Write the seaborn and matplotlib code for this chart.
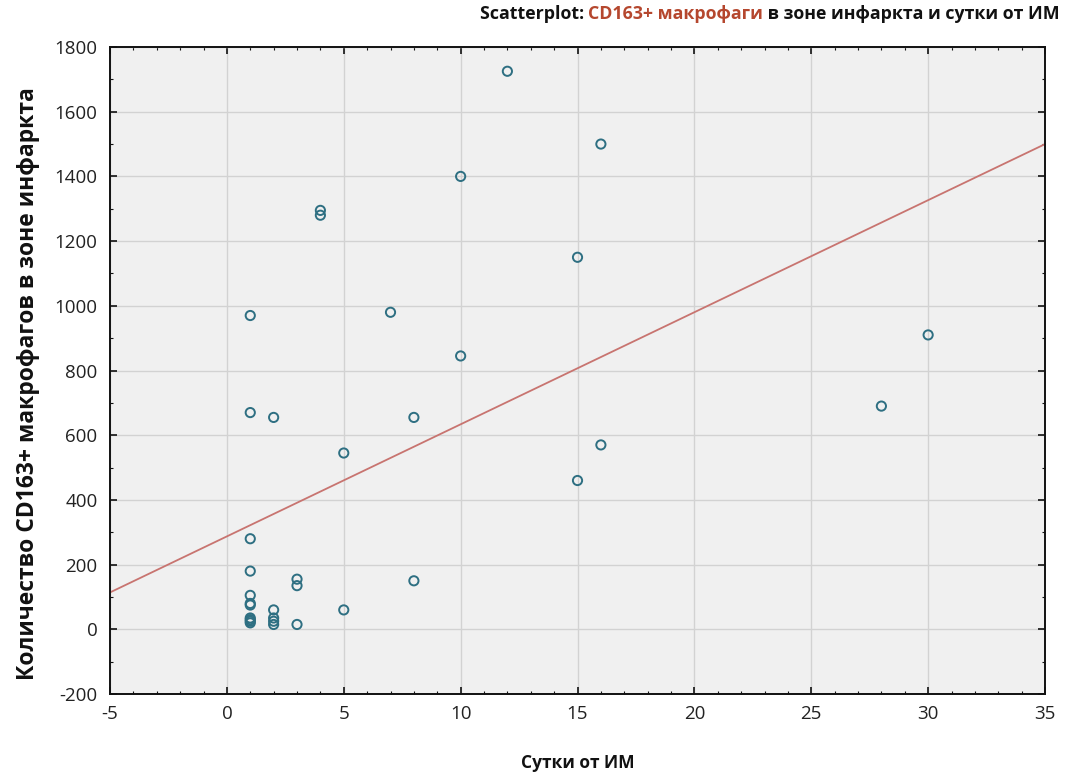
import numpy as np
import pandas as pd
import matplotlib
matplotlib.use("Agg")
import matplotlib.pyplot as plt
from matplotlib.ticker import MultipleLocator
import seaborn as sns

# Days after myocardial infarction and CD163+ macrophage counts in the infarct zone
days = [1, 1, 1, 1, 1, 1, 1, 1, 1, 1, 1,
        2, 2, 2, 2, 2,
        3, 3, 3,
        4, 4,
        5, 5,
        7,
        8, 8,
        10, 10,
        12,
        15, 15,
        16, 16,
        28,
        30]
macrophages = [970, 670, 280, 180, 105, 80, 75, 35, 30, 25, 20,
               655, 60, 35, 25, 15,
               155, 135, 15,
               1295, 1280,
               545, 60,
               980,
               655, 150,
               1400, 845,
               1725,
               1150, 460,
               1500, 570,
               690,
               910]

x_ticks = [-5, 0, 5, 10, 15, 20, 25, 30, 35]
y_ticks = [-200, 0, 200, 400, 600, 800, 1000, 1200, 1400, 1600, 1800]

title_parts = [("Scatterplot: ", "#111111"),
               ("CD163+ макрофаги", "#b5472e"),
               (" в зоне инфаркта и сутки от ИМ", "#111111")]
x_label = "Сутки от ИМ"
y_label = "Количество CD163+ макрофагов в зоне инфаркта"

df = pd.DataFrame({"days": days, "cd163": macrophages})

sns.set_style("whitegrid", {
    "axes.facecolor": "#f0f0f0",
    "axes.edgecolor": "#111111",
    "grid.color": "#d2d2d2",
})
plt.rcParams["font.family"] = ["Open Sans", "DejaVu Sans"]
plt.rcParams["axes.unicode_minus"] = False

fig = plt.figure(figsize=(10.67, 7.82), dpi=100)
ax = fig.add_axes([0.1031, 0.1125, 0.8763, 0.8274])
ax.set_xlim(-5, 35)
ax.set_ylim(-200, 1800)

point_color = "#2e6f82"
sns.regplot(data=df, x="days", y="cd163", ax=ax, ci=None, truncate=False,
            color=point_color,
            scatter_kws=dict(facecolors="none", edgecolors=point_color,
                             s=44, linewidths=1.4, alpha=1, zorder=3),
            line_kws=dict(color="#c87470", lw=1.3, zorder=2))

ax.set_xlim(-5, 35)
ax.set_ylim(-200, 1800)
ax.set_xticks(x_ticks)
ax.set_yticks(y_ticks)
ax.xaxis.set_minor_locator(MultipleLocator(1))
ax.yaxis.set_minor_locator(MultipleLocator(100))
ax.grid(True, which="major", color="#d2d2d2", lw=1)
ax.grid(False, which="minor")
ax.tick_params(which="both", direction="in", top=True, right=True,
               bottom=True, left=True, color="#111111")
ax.tick_params(which="major", length=5, width=1.2, labelsize=13.5,
               labelcolor="#222222")
ax.tick_params(axis="y", which="major", pad=9)
ax.tick_params(axis="x", which="major", pad=8)
ax.tick_params(which="minor", length=2.5, width=0.8)
for sp in ax.spines.values():
    sp.set_linewidth(1.4)
    sp.set_color("#111111")

ax.set_xlabel(x_label, fontsize=12.5, fontweight="bold", labelpad=22, color="#111111")
ax.set_ylabel(y_label, fontsize=16.5, fontweight="bold", labelpad=12, color="#111111")
ax.yaxis.set_label_coords(-0.075, 0.48)

# Multi-coloured title, laid out right to left from the figure's right edge
fig.canvas.draw()
renderer = fig.canvas.get_renderer()
x_right = 1060 / 1067
for text, col in reversed(title_parts):
    t = fig.text(x_right, 1 - 14 / 782, text, ha="right", va="center",
                 fontsize=12.8, fontweight="bold", color=col)
    bb = t.get_window_extent(renderer=renderer)
    x_right = bb.x0 / fig.bbox.width

fig.savefig("out.png", dpi=100)
